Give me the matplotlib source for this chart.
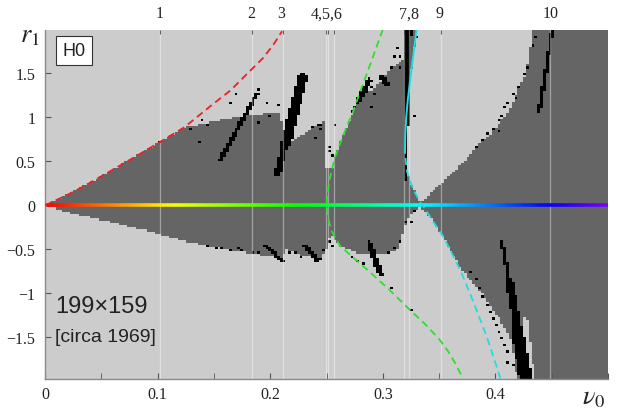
import numpy as np
import matplotlib
matplotlib.use('Agg')
import matplotlib.pyplot as plt
from matplotlib.colors import ListedColormap
from matplotlib.collections import LineCollection

# grid size and plot range
NCOL, NROW = 199, 159
NU_MIN, NU_MAX = 0.0, 0.5
R_MIN, R_MAX = -1.975, 2.0

# upper edge of the stable (dark) region, r > 0
up_nu = [0.000, 0.020, 0.035, 0.050, 0.069, 0.085, 0.102, 0.124, 0.150, 0.180, 0.209, 0.2115, 0.220,
         0.233, 0.2432, 0.2477, 0.2480, 0.2555, 0.2575, 0.2650, 0.2737, 0.282, 0.292, 0.303, 0.318, 0.3195]
up_r = [0.00, 0.12, 0.22, 0.33, 0.47, 0.59, 0.72, 0.88, 0.95, 1.02, 1.06, 0.72, 0.72,
        0.84, 0.92, 0.94, 0.43, 0.43, 0.545, 0.80, 1.07, 1.26, 1.32, 1.49, 1.64, 2.0]

# lower edge of the stable region, r < 0
low_nu = [0.000, 0.025, 0.055, 0.084, 0.102, 0.124, 0.144, 0.179, 0.209, 0.2115, 0.213, 0.226, 0.2455,
          0.2500, 0.2537, 0.2570, 0.262, 0.282, 0.303, 0.3125, 0.318, 0.324, 0.3335, 0.3455, 0.3535,
          0.3615, 0.370, 0.381, 0.392, 0.404, 0.413, 0.417, 0.419]
low_r = [0.00, -0.10, -0.18, -0.27, -0.33, -0.41, -0.46, -0.54, -0.60, -0.60, -0.50, -0.56, -0.61,
         -0.50, -0.31, -0.40, -0.46, -0.56, -0.56, -0.50, -0.31, -0.12, -0.01, -0.20, -0.35,
         -0.55, -0.73, -0.90, -1.07, -1.30, -1.50, -1.75, -1.98]

# unstable wedge above the axis near nu0 = 1/3 (left edge is the cyan curve)
wedge_r = [0.03, 0.26, 0.49, 0.66, 0.81, 1.07, 1.49, 2.0]
wedge_nu = [0.334, 0.353, 0.372, 0.383, 0.396, 0.412, 0.427, 0.4335]

# analytic boundary curves
red_nu = [0.000, 0.020, 0.035, 0.050, 0.069, 0.085, 0.102, 0.124, 0.149, 0.165, 0.179, 0.194, 0.203, 0.2105]
red_r = [0.00, 0.12, 0.22, 0.33, 0.47, 0.59, 0.72, 0.89, 1.15, 1.31, 1.49, 1.68, 1.83, 1.98]

green_r = [2.0, 1.75, 1.5, 1.26, 1.07, 0.8, 0.545, 0.3, 0.1, 0.0, -0.16, -0.3, -0.46, -0.6, -0.73,
           -0.95, -1.2, -1.35, -1.52, -1.65, -1.8, -1.95]
green_nu = [0.300, 0.293, 0.2859, 0.279, 0.2737, 0.265, 0.2575, 0.2528, 0.2506, 0.2502, 0.2517, 0.2548,
            0.262, 0.2743, 0.286, 0.305, 0.325, 0.3375, 0.350, 0.3575, 0.3645, 0.3705]

cyan_r = [-1.97, -1.75, -1.5, -1.25, -1.0, -0.73, -0.55, -0.35, -0.2, 0.0, 0.03, 0.1, 0.2, 0.3,
          0.4, 0.6, 0.8, 1.0, 1.2, 1.5, 1.75, 2.0]
cyan_nu = [0.4045, 0.399, 0.3925, 0.385, 0.3774, 0.3686, 0.3615, 0.3535, 0.3455, 0.3355, 0.3335, 0.3305,
           0.3265, 0.3235, 0.3212, 0.3197, 0.320, 0.3208, 0.3222, 0.325, 0.3275, 0.330]

# black streaks: nu0, r0, nu1, r1, half width (cells)
streaks = [
    (0.156, 0.52, 0.188, 1.26, 0.8),
    (0.206, 0.35, 0.218, 0.90, 1.2),
    (0.214, 0.70, 0.229, 1.45, 1.8),
    (0.3205, 0.30, 0.3215, 1.30, 0.7),
    (0.321, 1.20, 0.3225, 2.00, 1.2),
    (0.278, 1.18, 0.288, 1.42, 1.0),
    (0.300, 1.45, 0.303, 1.38, 1.2),
    (0.4508, 2.00, 0.4390, 1.07, 0.6),
    (0.196, -0.46, 0.2108, -0.63, 0.7),
    (0.2314, -0.46, 0.2418, -0.63, 0.8),
    (0.2876, -0.42, 0.298, -0.78, 1.0),
    (0.406, -0.42, 0.413, -0.90, 0.6),
    (0.412, -0.85, 0.421, -1.45, 1.4),
    (0.419, -1.40, 0.427, -1.97, 2.2),
]
# light rim beside the big lower streak
rim = (0.426, -1.30, 0.433, -1.97, 0.9)

speck_nu = [0.1015, 0.1298, 0.1369, 0.1398, 0.1440, 0.1635, 0.1695, 0.1886, 0.1960, 0.2063, 0.1901, 0.2000,
            0.2255, 0.2374, 0.2404, 0.2433, 0.2448, 0.2448, 0.2581, 0.2522, 0.2537, 0.2545,
            0.2861, 0.2890, 0.2817, 0.2788, 0.2743, 0.2729, 0.2920, 0.2905, 0.3009, 0.3024, 0.3068,
            0.3127, 0.3142, 0.3098, 0.3157, 0.3290, 0.3305,
            0.4355, 0.4340, 0.4296, 0.4266, 0.4207, 0.4148, 0.4192, 0.4118, 0.4089, 0.4059, 0.4030,
            0.3971, 0.3941, 0.3882, 0.3838, 0.4030,
            0.1457, 0.1517, 0.1576, 0.1635, 0.1724, 0.1745, 0.1842, 0.1887, 0.2167, 0.2226, 0.2285,
            0.2463, 0.2448, 0.2522, 0.2551, 0.2729, 0.2788, 0.2817, 0.3069, 0.3246, 0.3054, 0.3113,
            0.3142, 0.3201, 0.3246, 0.3291,
            0.3793, 0.3823, 0.3852, 0.3882, 0.3926, 0.3956, 0.3971, 0.4001, 0.4045, 0.4059, 0.4089,
            0.4118, 0.4118, 0.4148]
speck_r = [0.72, 0.85, 0.72, 0.96, 0.90, 1.15, 1.25, 1.32, 1.15, 1.13, 0.93, 1.00,
           1.47, 0.89, 0.77, 0.92, 0.92, 0.85, 0.92, 0.66, 0.60, 0.55,
           1.40, 1.34, 1.25, 1.19, 1.12, 1.07, 1.25, 1.12, 1.42, 1.40, 1.57,
           1.78, 1.68, 1.68, 1.57, 1.00, 1.91,
           1.91, 1.80, 1.57, 1.49, 1.34, 1.27, 1.21, 1.15, 1.12, 1.00, 0.96,
           0.85, 0.81, 0.73, 0.66, 0.83,
           -0.46, -0.49, -0.50, -0.52, -0.48, -0.52, -0.53, -0.55, -0.54, -0.55, -0.59,
           -0.52, -0.61, -0.42, -0.46, -0.59, -0.65, -0.67, -0.93, -1.18, -0.55, -0.50,
           -0.42, -0.19, -0.19, -0.06,
           -0.76, -0.84, -0.95, -1.03, -1.14, -1.22, -1.29, -1.37, -1.44, -1.52, -1.60,
           -1.67, -1.79, -1.82]

# numbered resonance lines
line_nu = [0.1020, 0.1841, 0.2116, 0.2492, 0.2517, 0.2570, 0.3187, 0.3231, 0.3519, 0.4488]
label_nu = [0.1014, 0.1834, 0.2097, 0.2504, 0.3231, 0.3506, 0.4488]
label_txt = ['1', '2', '3', '4,5,6', '7,8', '9', '10']

# build the stability map
du = (NU_MAX - NU_MIN) / NCOL
dr = (R_MAX - R_MIN) / NROW
nu_c = NU_MIN + (np.arange(NCOL) + 0.5) * du
r_c = R_MIN + (np.arange(NROW) + 0.5) * dr
NU, R = np.meshgrid(nu_c, r_c)

grid = np.ones((NROW, NCOL))
top = np.interp(nu_c, up_nu, up_r, right=9.0)
grid[(R > 0) & (R > top[None, :])] = 0
left = np.interp(R, cyan_r, cyan_nu)
right = np.interp(R, wedge_r, wedge_nu, left=0.0)
grid[(R > 0) & (NU > left) & (NU < right)] = 0
bot = np.interp(nu_c, low_nu, low_r, right=-9.0)
grid[(R < 0) & (R < bot[None, :])] = 0


def streak_mask(nu0, r0, nu1, r1, hw):
    x, y = NU / du, R / dr
    x0, y0, x1, y1 = nu0 / du, r0 / dr, nu1 / du, r1 / dr
    dx, dy = x1 - x0, y1 - y0
    t = np.clip(((x - x0) * dx + (y - y0) * dy) / (dx * dx + dy * dy), 0, 1)
    return np.hypot(x - (x0 + t * dx), y - (y0 + t * dy)) <= hw


grid[streak_mask(*rim)] = 0
for s in streaks:
    grid[streak_mask(*s)] = 2
for n, r in zip(speck_nu, speck_r):
    i = int((r - R_MIN) / dr)
    j = int((n - NU_MIN) / du)
    grid[i, j] = 2

plt.rcParams['mathtext.fontset'] = 'stix'
fig = plt.figure(figsize=(6.19, 4.10), dpi=100)
ax = fig.add_axes([45 / 619, 1 - 380 / 410, 563 / 619, 349.5 / 410])

cmap = ListedColormap(['#cccccc', '#656565', '#000000'])
ax.imshow(grid, origin='lower', extent=(NU_MIN, NU_MAX, R_MIN, R_MAX), cmap=cmap,
          vmin=0, vmax=2, interpolation='nearest', aspect='auto', zorder=0)

for x in line_nu:
    ax.axvline(x, color='white', alpha=0.4, lw=0.9, zorder=1)

# colour-coded nu0 axis
xs = np.linspace(NU_MIN, NU_MAX, 300)
segs = [[(xs[k], 0), (xs[k + 1], 0)] for k in range(len(xs) - 1)]
lc = LineCollection(segs, colors=plt.cm.hsv(xs[:-1] / NU_MAX * 0.76), linewidths=2.6, zorder=2)
ax.add_collection(lc)

dash = (4, 2.5)
ax.plot(red_nu, red_r, color='#ee2020', lw=1.3, dashes=dash, zorder=3)
ax.plot(green_nu, green_r, color='#2de02d', lw=1.3, dashes=dash, zorder=3)
cyan_r = np.array(cyan_r)
cyan_nu = np.array(cyan_nu)
solid = cyan_r >= 0.6
ax.plot(cyan_nu[solid], cyan_r[solid], color='#20dde0', lw=1.4, zorder=3)
ax.plot(cyan_nu[cyan_r <= 0.6], cyan_r[cyan_r <= 0.6], color='#20dde0', lw=1.3, dashes=dash, zorder=3)

ax.set_xlim(NU_MIN, NU_MAX)
ax.set_ylim(R_MIN, R_MAX)

serif = 'Liberation Serif'
ax.set_xticks([0, 0.1, 0.2, 0.3, 0.4, 0.5])
ax.set_xticklabels(['0', '0.1', '0.2', '0.3', '0.4', ''], family=serif, fontsize=11.5)
ax.set_xticks(np.arange(0.05, 0.5, 0.1), minor=True)
ax.set_yticks([-1.5, -1, -0.5, 0, 0.5, 1, 1.5])
ax.set_yticklabels(['\u22121.5', '\u22121', '\u22120.5', '0', '0.5', '1', '1.5'], family=serif, fontsize=11.5)
ax.tick_params(which='both', direction='in', length=4, color='#555555', labelcolor='#222222')
ax.tick_params(axis='x', pad=5)
ax.tick_params(axis='y', pad=7)
for side in ['top', 'right']:
    ax.spines[side].set_visible(False)
for side in ['left', 'bottom']:
    ax.spines[side].set_color('#8a8a8a')
    ax.spines[side].set_linewidth(1.0)

# numbered labels along the top
axt = ax.twiny()
axt.set_xlim(NU_MIN, NU_MAX)
axt.set_xticks(label_nu)
axt.set_xticklabels(label_txt, family=serif, fontsize=11.5, color='#222222')
axt.set_xticks(line_nu, minor=True)
axt.tick_params(which='major', length=0, pad=6)
axt.tick_params(which='minor', direction='in', length=3, color='#444444')
for sp in axt.spines.values():
    sp.set_visible(False)

ax.text(-0.027, 0.985, r'$r_1$', transform=ax.transAxes, fontsize=19, ha='center', va='center',
        color='#222222')
ax.text(0.975, -0.05, r'$\nu_0$', transform=ax.transAxes, fontsize=19, ha='center', va='center',
        color='#222222')

ax.text(0.051, 0.94, 'H0', transform=ax.transAxes, family='Liberation Sans', fontsize=13,
        ha='center', va='center', color='#222222',
        bbox=dict(boxstyle='square,pad=0.35', fc='white', ec='#333333', lw=0.8), zorder=5)
ax.text(0.018, 0.21, '199\u00d7159', transform=ax.transAxes, family='Liberation Sans', fontsize=17,
        ha='left', va='center', color='#222222')
ax.text(0.018, 0.122, '[circa 1969]', transform=ax.transAxes, family='Liberation Sans', fontsize=14,
        ha='left', va='center', color='#222222')

fig.savefig('out.png', dpi=100)
